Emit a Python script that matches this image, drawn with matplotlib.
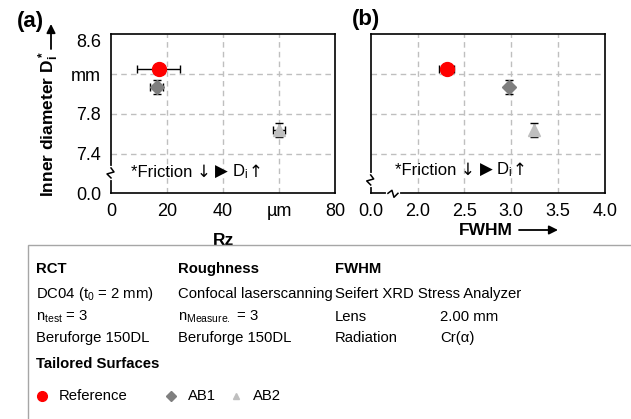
import matplotlib.pyplot as plt
import matplotlib.transforms as mtransforms
from matplotlib.patches import Rectangle
from matplotlib.offsetbox import TextArea, HPacker, AnchoredOffsetbox

plt.rcParams['font.family'] = ['Liberation Sans', 'DejaVu Sans']
plt.rcParams['mathtext.default'] = 'regular'

# series
names = ['Reference', 'AB1', 'AB2']
colors = ['#ff0000', '#7f7f7f', '#bfbfbf']
markers = ['o', 'D', '^']
marker_sizes = [10, 7, 9]

inner_d = [8.25, 8.07, 7.64]
inner_d_err = [0.0, 0.07, 0.07]
rz = [17.0, 16.3, 60.1]
rz_err = [7.7, 2.3, 2.2]
fwhm = [2.31, 2.98, 3.24]
fwhm_err = [0.08, 0.0, 0.0]

# axis ticks (broken axes: lowest tick stands for 0.0)
d_ticks = [7.0, 7.4, 7.8, 8.2, 8.6]
d_labels = ['0.0', '7.4', '7.8', 'mm', '8.6']
rz_ticks = [0, 20, 40, 60, 80]
rz_labels = ['0', '20', '40', 'µm', '80']
fwhm_ticks = [1.5, 2.0, 2.5, 3.0, 3.5, 4.0]
fwhm_labels = ['0.0', '2.0', '2.5', '3.0', '3.5', '4.0']

W, H = 631, 419
fig = plt.figure(figsize=(W / 100, H / 100), dpi=100)


def px_axes(left, top, right, bottom):
    return fig.add_axes([left / W, 1 - bottom / H, (right - left) / W, (bottom - top) / H])


ax_a = px_axes(111, 34.3, 335, 193.3)
ax_b = px_axes(370.7, 34.3, 605, 193.3)


def draw_panel(ax, x, xerr, ticks, labels, show_y):
    for i in range(len(names)):
        ax.errorbar(x[i], inner_d[i],
                    xerr=xerr[i] if xerr[i] else None,
                    yerr=inner_d_err[i] if inner_d_err[i] else None,
                    fmt=markers[i], color=colors[i], ms=marker_sizes[i],
                    ecolor='black', elinewidth=1, capsize=3, capthick=1, zorder=3)
    ax.set_xlim(ticks[0], ticks[-1])
    ax.set_ylim(d_ticks[0], d_ticks[-1])
    ax.set_xticks(ticks)
    ax.set_xticklabels(labels, fontsize=13)
    ax.set_yticks(d_ticks)
    if show_y:
        ax.set_yticklabels(d_labels, fontsize=13)
        ax.get_yticklabels()[-1].set_va('top')
    else:
        ax.set_yticklabels([])
    ax.tick_params(length=0, pad=7)
    for t in ticks[1:-1]:
        ax.axvline(t, color='#bfbfbf', lw=1, ls=(0, (4, 3)), zorder=1)
    for t in d_ticks[1:-1]:
        ax.axhline(t, color='#bfbfbf', lw=1, ls=(0, (4, 3)), zorder=1)
    for s in ax.spines.values():
        s.set_linewidth(1.2)


def axis_break(ax, xa, ya, vertical=True):
    # little zigzag across an axis line, drawn in pixel offsets
    tr = fig.dpi_scale_trans + mtransforms.ScaledTranslation(xa, ya, ax.transAxes)
    zz = [(0, 5), (3, 1), (-4, -1), (0, -5)]
    if not vertical:
        zz = [(-b, a) for a, b in zz]
    xs = [p[0] / 100 for p in zz]
    ys = [p[1] / 100 for p in zz]
    ax.plot([xs[0], xs[-1]], [ys[0], ys[-1]], color='white', lw=3,
            transform=tr, clip_on=False, zorder=5)
    ax.plot(xs, ys, color='black', lw=1.1, transform=tr, clip_on=False, zorder=6)


def friction_note(ax, xa, ya):
    # arrows come from DejaVu Sans, the rest from Liberation Sans
    sans = dict(fontsize=12, family='Liberation Sans')
    sym = dict(fontsize=12, family='DejaVu Sans')
    parts = [TextArea('*Friction ', textprops=sans),
             TextArea('\u2193', textprops=sym),
             TextArea(' ', textprops=sans),
             TextArea('\u25B6', textprops=dict(fontsize=12, family='DejaVu Sans')),
             TextArea(' D$_i$', textprops=sans),
             TextArea('\u2191', textprops=sym)]
    box = AnchoredOffsetbox(loc='center left', child=HPacker(children=parts, sep=0, pad=0,
                                                             align='baseline'),
                            bbox_to_anchor=(xa, ya), bbox_transform=ax.transAxes,
                            frameon=False, pad=0, borderpad=0)
    ax.add_artist(box)


draw_panel(ax_a, rz, rz_err, rz_ticks, rz_labels, True)
draw_panel(ax_b, fwhm, fwhm_err, fwhm_ticks, fwhm_labels, False)

axis_break(ax_a, 0, 0.128)
axis_break(ax_b, 0, 0.084)
axis_break(ax_b, 0.095, 0, vertical=False)

friction_note(ax_a, 0.089, 0.134)
friction_note(ax_b, 0.104, 0.147)

# overlay in pixel coordinates for labels and the info box
ov = fig.add_axes([0, 0, 1, 1], zorder=10)
ov.set_xlim(0, W)
ov.set_ylim(H, 0)
ov.axis('off')

ov.text(30, 22, '(a)', fontsize=16, fontweight='bold', ha='center', va='center')
ov.text(366, 19, '(b)', fontsize=16, fontweight='bold', ha='center', va='center')

ov.text(49, 197, 'Inner diameter D$_i^*$', rotation=90, fontsize=12.5, fontweight='bold',
        ha='center', va='bottom')
ov.annotate('', xy=(51, 24), xytext=(51, 49),
            arrowprops=dict(arrowstyle='-|>', color='black', lw=1.3, mutation_scale=13,
                            shrinkA=0, shrinkB=0))

ov.text(223, 240, 'Rz', fontsize=12.5, fontweight='bold', ha='center', va='center', zorder=1)
ov.text(486, 230, 'FWHM', fontsize=12.5, fontweight='bold', ha='center', va='center')
ov.annotate('', xy=(558, 230), xytext=(519, 230),
            arrowprops=dict(arrowstyle='-|>', color='black', lw=1.3, mutation_scale=13,
                            shrinkA=0, shrinkB=0))

ov.add_patch(Rectangle((28, 245), 700, 300, facecolor='white', edgecolor='#a6a6a6',
                       lw=1, zorder=2))

fs = 10.7
cols = [36, 178, 335]
heads = ['RCT', 'Roughness', 'FWHM']
rows = [
    ['DC04 (t$_0$ = 2 mm)', 'n$_{test}$ = 3', 'Beruforge 150DL'],
    ['Confocal laserscanning', 'n$_{Measure.}$ = 3', 'Beruforge 150DL'],
    ['Seifert XRD Stress Analyzer', 'Lens', 'Radiation'],
]
row_y = [294, 317, 338]
for cx, head, lines in zip(cols, heads, rows):
    ov.text(cx, 269, head, fontsize=fs, fontweight='bold', va='center', zorder=3)
    for yy, s in zip(row_y, lines):
        ov.text(cx, yy, s, fontsize=fs, va='center', zorder=3)
ov.text(440, 317, '2.00 mm', fontsize=fs, va='center', zorder=3)
ov.text(440, 338, 'Cr(\u03b1)', fontsize=fs, va='center', zorder=3)

ov.text(36, 364, 'Tailored Surfaces', fontsize=fs, fontweight='bold', va='center', zorder=3)
leg_x = [42, 171, 236]
leg_ms = [7, 5.5, 5]
for lx, name, c, m, ms in zip(leg_x, names, colors, markers, leg_ms):
    ov.plot(lx, 396, marker=m, color=c, ms=ms, ls='none', zorder=3)
    ov.text(lx + 17, 396, name, fontsize=fs, va='center', zorder=3)

fig.savefig('out.png', dpi=100)
